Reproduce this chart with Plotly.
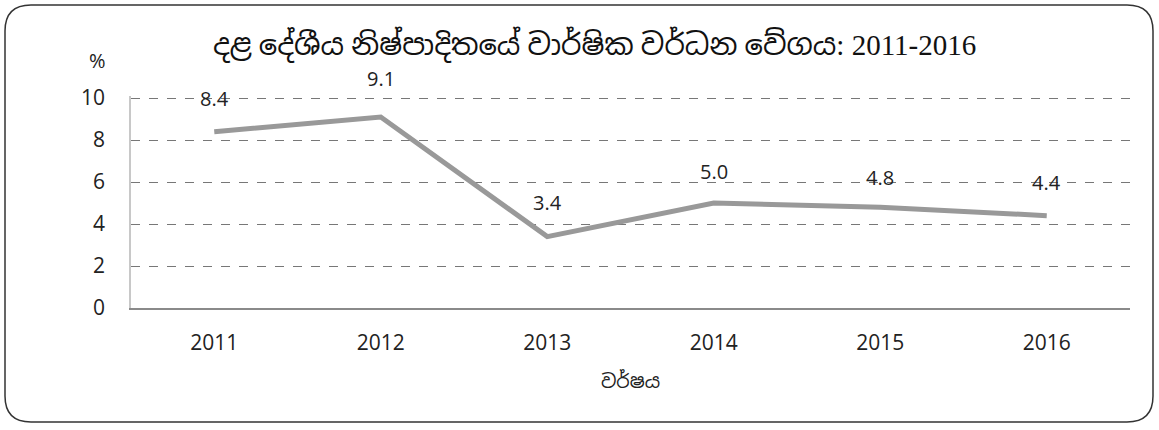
import plotly.graph_objects as go

years = ["2011", "2012", "2013", "2014", "2015", "2016"]
growth = [8.4, 9.1, 3.4, 5.0, 4.8, 4.4]
label_text = ["8.4", "9.1", "3.4", "5.0", "4.8", "4.4"]
y_ticks = [0, 2, 4, 6, 8, 10]

title_text = "දළ දේශීය නිෂ්පාදිතයේ වාර්ෂික වර්ධන වේගය: 2011-2016"
x_title = "වර්ෂය"
y_unit = "%"

# style: vertical pixel shift of each data label
label_shift = [33, 38, 34, 32, 30, 33]

W, H = 1159, 430
ML, MR, MT, MB = 131, 29, 96, 122
FONT = "Open Sans, Liberation Sans, sans-serif"

fig = go.Figure()
fig.add_trace(go.Scatter(
    x=years, y=growth, mode="lines",
    line=dict(color="#999999", width=5),
    hoverinfo="skip", showlegend=False,
))

for i, (y, t, s) in enumerate(zip(growth, label_text, label_shift)):
    fig.add_annotation(x=i, y=y, xref="x", yref="y", text=t, showarrow=False,
                       yshift=s, font=dict(family=FONT, size=20, color="#222"))

fig.update_layout(
    width=W, height=H,
    margin=dict(l=ML, r=MR, t=MT, b=MB),
    paper_bgcolor="white", plot_bgcolor="white",
    title=dict(text=title_text, x=0.513, xanchor="center", y=0.895, yanchor="middle",
               font=dict(family="Liberation Serif, Noto Sans Sinhala, serif", size=29, color="#111")),
    xaxis=dict(
        type="category", range=[-0.5, 5.5],
        showgrid=False, showline=True, linecolor="#8a8a8a", linewidth=1.5,
        ticks="", tickfont=dict(family=FONT, size=21, color="#222"),
        ticklabelstandoff=15,
        title=dict(text=x_title, font=dict(family="Noto Sans Sinhala, " + FONT, size=19, color="#222"), standoff=20),
    ),
    yaxis=dict(
        range=[0, 10.1], tickvals=y_ticks,
        showgrid=True, gridcolor="#777777", griddash="dash", gridwidth=1,
        showline=True, linecolor="#c8c8c8", linewidth=1.5,
        zeroline=False, ticks="",
        tickfont=dict(family=FONT, size=21, color="#222"),
        ticklabelstandoff=20,
    ),
)

pw = W - ML - MR
ph = H - MT - MB

def px(xp):
    return (xp - ML) / pw

def py(yp):
    return (H - MB - yp) / ph

fig.add_annotation(xref="paper", yref="paper", x=px(97), y=py(60), text=y_unit, showarrow=False,
                   xanchor="center", yanchor="middle",
                   font=dict(family=FONT, size=20, color="#222"))

# rounded border around whole chart
x0, x1, y0, y1, r = 5, 1153, 5, 422, 26
path = (f"M {px(x0 + r)},{py(y0)} L {px(x1 - r)},{py(y0)} "
        f"Q {px(x1)},{py(y0)} {px(x1)},{py(y0 + r)} L {px(x1)},{py(y1 - r)} "
        f"Q {px(x1)},{py(y1)} {px(x1 - r)},{py(y1)} L {px(x0 + r)},{py(y1)} "
        f"Q {px(x0)},{py(y1)} {px(x0)},{py(y1 - r)} L {px(x0)},{py(y0 + r)} "
        f"Q {px(x0)},{py(y0)} {px(x0 + r)},{py(y0)} Z")
fig.add_shape(type="path", xref="paper", yref="paper", path=path,
              line=dict(color="#333", width=1.5), fillcolor="rgba(0,0,0,0)")

fig.write_html("out.html", config={"displayModeBar": False},
               post_script="document.body.style.margin='0';document.body.style.overflow='hidden';")
